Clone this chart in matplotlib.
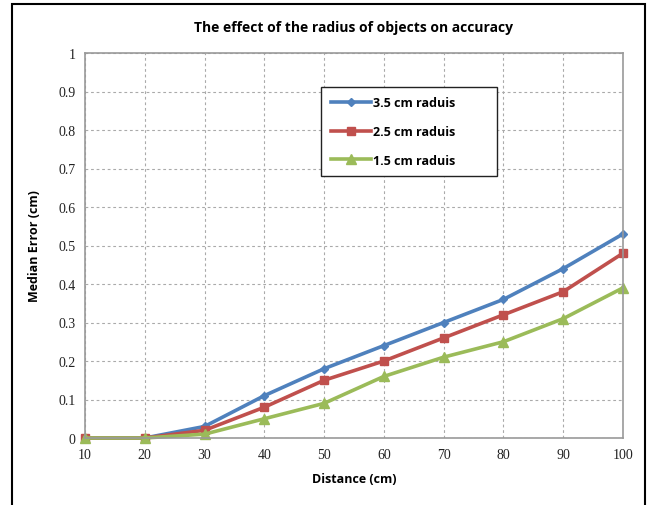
import matplotlib
matplotlib.use("Agg")
import matplotlib.pyplot as plt
from matplotlib.patches import Rectangle

distance = [10, 20, 30, 40, 50, 60, 70, 80, 90, 100]
r35 = [0, 0, 0.03, 0.11, 0.18, 0.24, 0.30, 0.36, 0.44, 0.53]
r25 = [0, 0, 0.02, 0.08, 0.15, 0.20, 0.26, 0.32, 0.38, 0.48]
r15 = [0, 0, 0.01, 0.05, 0.09, 0.16, 0.21, 0.25, 0.31, 0.39]
labels = ["3.5 cm raduis", "2.5 cm raduis", "1.5 cm raduis"]
yticks = [0, 0.1, 0.2, 0.3, 0.4, 0.5, 0.6, 0.7, 0.8, 0.9, 1]
ytick_labels = ["0", "0.1", "0.2", "0.3", "0.4", "0.5", "0.6", "0.7", "0.8", "0.9", "1"]

W, H = 651, 506
fig = plt.figure(figsize=(W/100, H/100), dpi=100)
ax = fig.add_axes([85/W, 1-439/H, (623-85)/W, (439-54)/H])

bold = dict(family=["Open Sans", "DejaVu Sans"], weight="bold")

ax.plot(distance, r35, color="#4F81BD", marker="D", markersize=4.5, lw=2.6, label=labels[0])
ax.plot(distance, r25, color="#C0504D", marker="s", markersize=5.5, lw=2.6, label=labels[1])
ax.plot(distance, r15, color="#9BBB59", marker="^", markersize=7, lw=2.6, label=labels[2])

ax.set_xlim(10, 100)
ax.set_ylim(0, 1)
ax.set_xticks(distance)
ax.set_yticks(yticks)
ax.set_yticklabels(ytick_labels)
for lab in ax.get_xticklabels() + ax.get_yticklabels():
    lab.set_family(["Liberation Serif", "DejaVu Serif"])
    lab.set_fontsize(10)
ax.tick_params(length=0, pad=7, colors="#222222")
ax.grid(True, ls=(0, (2.5, 2.5)), color="#aaaaaa", lw=0.8)
for s in ax.spines.values():
    s.set_color("#999999")
    s.set_linewidth(1.2)
for l in ax.get_lines():
    l.set_clip_on(False)

ax.set_title("The effect of the radius of objects on accuracy", fontsize=10, pad=16, **bold)
ax.set_xlabel("Distance (cm)", fontsize=9, labelpad=8, **bold)
ax.set_ylabel("Median Error (cm)", fontsize=9, labelpad=12, **bold)

leg = ax.legend(loc="upper left", bbox_to_anchor=(0.439, 0.686, 0.327, 0.226),
                mode="expand", borderaxespad=0, fancybox=False, framealpha=1,
                borderpad=0.75, handlelength=3.2, handletextpad=0.2, labelspacing=1.25,
                prop=dict(family=["Open Sans", "DejaVu Sans"], weight="bold", size=9))
leg.get_frame().set_edgecolor("#222222")
leg.get_frame().set_linewidth(1.0)

fig.patches.append(Rectangle((12/W, -0.02), (645-12)/W, 1-5/H+0.02, transform=fig.transFigure,
                             fill=False, edgecolor="black", lw=1.5))

fig.savefig("out.png", dpi=100)
